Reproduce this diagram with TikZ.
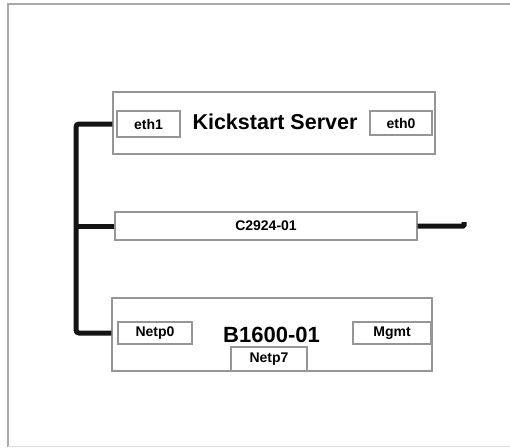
\documentclass[tikz,border=0pt]{standalone}
\usepackage{fontspec}
\setmainfont{Liberation Sans}
\usepackage{tikz}
\usepackage{xcolor}
\definecolor{frame}{RGB}{170,170,170}
\definecolor{boxline}{RGB}{150,150,150}
\definecolor{cable}{RGB}{20,20,20}

\begin{document}
\begin{tikzpicture}[x=1pt,y=-1pt,
    chassis/.style={draw=boxline,line width=1.4pt,inner sep=0pt},
    port/.style={draw=boxline,line width=1.2pt,inner sep=0pt,font=\fontsize{14}{14}\selectfont\bfseries},
    cable/.style={draw=cable,line width=5pt}]
    \useasboundingbox (0,0) rectangle (510,447);
    % page frame
    \draw[frame,line width=2.5pt] (8,447)--(8,4)--(510,4);
    \draw[frame!40,line width=1pt] (8,446)--(510,446);
    % kickstart server
    \node[chassis,minimum width=322,minimum height=62] (server) at (274,123) {};
    \node[port,minimum width=63,minimum height=26] (eth1) at (148.5,124) {eth1};
    \node[port,minimum width=62,minimum height=24] (eth0) at (401,123) {eth0};
    \node[font=\fontsize{21.5}{21.5}\selectfont\bfseries] (servername) at (275,122) {Kickstart Server};
    % switch
    \node[chassis,minimum width=302,minimum height=28,font=\fontsize{14}{14}\selectfont\bfseries] (switch) at (266,226) {C2924-01};
    % blade chassis
    \node[chassis,minimum width=320,minimum height=73] (blade) at (272,334.5) {};
    \node[port,minimum width=74,minimum height=22] (netp0) at (155,333) {Netp0};
    \node[port,minimum width=78,minimum height=22] (mgmt) at (392,333) {Mgmt};
    \node[port,minimum width=76,minimum height=24] (netp7) at (269,359) {Netp7};
    \node[font=\fontsize{22}{22}\selectfont\bfseries] (bladename) at (271.5,335) {B1600-01};
    % install network
    \coordinate (bus) at (76,226);
    \coordinate (uplink) at (464,222);
    \draw[cable,rounded corners=3pt] (server.west |- eth1.west) -| (bus) |- (blade.west |- netp0.west);
    \draw[cable] (switch.west) -- (bus);
    \draw[cable,rounded corners=1pt] (switch.east) -- (uplink |- switch.east) -- (uplink);
\end{tikzpicture}
\end{document}
